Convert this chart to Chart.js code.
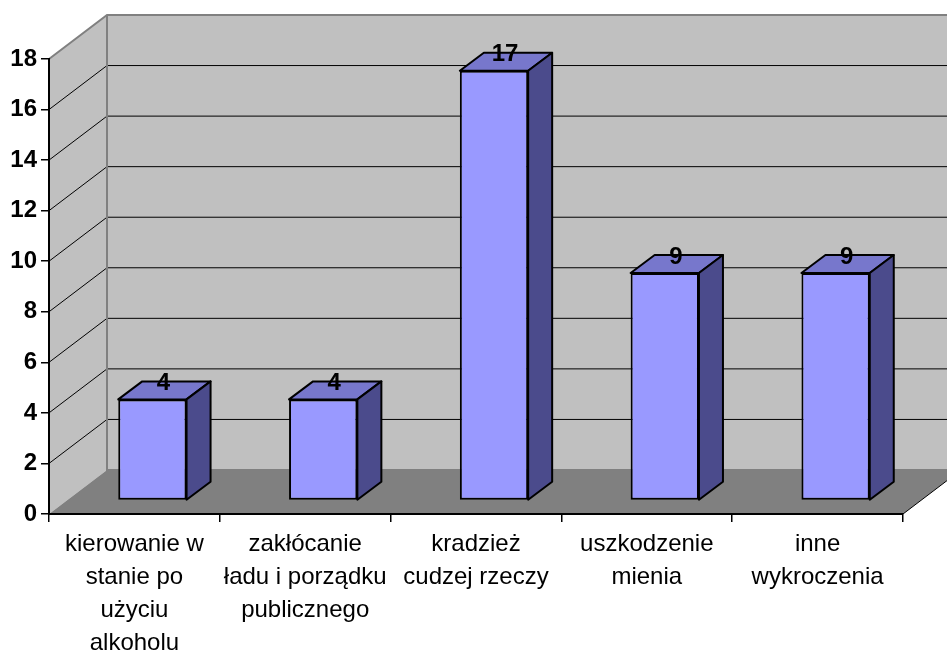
<!DOCTYPE html>
<html>
<head>
<meta charset="utf-8">
<script src="https://cdn.jsdelivr.net/npm/chart.js@4.4.1/dist/chart.umd.min.js"></script>
<style>
  html, body { margin: 0; padding: 0; background: #fff; }
</style>
</head>
<body>
<canvas id="offenceChart" width="947" height="651"></canvas>
<script>
// Category labels, split into lines like the original
const categories = [
  ['kierowanie w', 'stanie po', 'użyciu', 'alkoholu'],
  ['zakłócanie', 'ładu i porządku', 'publicznego'],
  ['kradzież', 'cudzej rzeczy'],
  ['uszkodzenie', 'mienia'],
  ['inne', 'wykroczenia']
];
const offenceCounts = [4, 4, 17, 9, 9];
const yTicks = [0, 2, 4, 6, 8, 10, 12, 14, 16, 18];

// 3D depth offsets (oblique projection)
const WALL_DX = 58, WALL_DY = -44;   // front plane -> back wall
const BAR_DX = 18, BAR_DY = -13.5;   // front plane -> bar front face
const SIDE_DX = 24, SIDE_DY = -18;   // bar depth

const FONT = 'Liberation Sans, Arial, sans-serif';

function poly(ctx, pts) {
  ctx.beginPath();
  ctx.moveTo(pts[0][0], pts[0][1]);
  for (let i = 1; i < pts.length; i++) ctx.lineTo(pts[i][0], pts[i][1]);
  ctx.closePath();
}

// Back wall, side wall, floor and the gridlines on them
const wallsPlugin = {
  id: 'walls',
  beforeDraw(chart) {
    const { ctx, chartArea: a, scales: { y } } = chart;
    ctx.save();

    ctx.fillStyle = '#c0c0c0';
    ctx.fillRect(a.left + WALL_DX, a.top + WALL_DY, a.width, a.height);
    poly(ctx, [[a.left, a.top], [a.left + WALL_DX, a.top + WALL_DY],
               [a.left + WALL_DX, a.bottom + WALL_DY], [a.left, a.bottom]]);
    ctx.fill();

    ctx.fillStyle = '#808080';
    poly(ctx, [[a.left, a.bottom], [a.right, a.bottom],
               [a.right + WALL_DX, a.bottom + WALL_DY], [a.left + WALL_DX, a.bottom + WALL_DY]]);
    ctx.fill();

    // gridlines
    ctx.strokeStyle = '#000';
    ctx.lineWidth = 1;
    yTicks.forEach(v => {
      if (v === 0 || v === yTicks[yTicks.length - 1]) return;
      const py = y.getPixelForValue(v);
      ctx.beginPath();
      ctx.moveTo(a.left, py);
      ctx.lineTo(a.left + WALL_DX, py + WALL_DY);
      ctx.lineTo(a.right + WALL_DX, py + WALL_DY);
      ctx.stroke();
    });

    // wall edges
    ctx.strokeStyle = '#808080';
    ctx.lineWidth = 2;
    ctx.beginPath();
    ctx.moveTo(a.left, a.top);
    ctx.lineTo(a.left + WALL_DX, a.top + WALL_DY);
    ctx.lineTo(a.right + WALL_DX, a.top + WALL_DY);
    ctx.moveTo(a.left + WALL_DX, a.top + WALL_DY);
    ctx.lineTo(a.left + WALL_DX, a.bottom + WALL_DY);
    ctx.lineTo(a.right + WALL_DX, a.bottom + WALL_DY);
    ctx.stroke();

    // right edge of the floor
    ctx.strokeStyle = '#000';
    ctx.lineWidth = 1;
    ctx.beginPath();
    ctx.moveTo(a.right, a.bottom);
    ctx.lineTo(a.right + WALL_DX, a.bottom + WALL_DY);
    ctx.stroke();

    ctx.restore();
  }
};

// Top and side faces of each bar; the front face is drawn by Chart.js
const boxPlugin = {
  id: 'box3d',
  beforeDatasetsDraw(chart) {
    const ctx = chart.ctx;
    ctx.save();
    ctx.translate(BAR_DX, BAR_DY);
    ctx.strokeStyle = '#000';
    ctx.lineWidth = 2;
    ctx.lineJoin = 'round';
    chart.getDatasetMeta(0).data.forEach(bar => {
      const l = bar.x - bar.width / 2, r = bar.x + bar.width / 2;
      const t = bar.y, b = bar.base;
      ctx.fillStyle = '#7777cc';
      poly(ctx, [[l, t], [l + SIDE_DX, t + SIDE_DY], [r + SIDE_DX, t + SIDE_DY], [r, t]]);
      ctx.fill(); ctx.stroke();
      ctx.fillStyle = '#4b4b8c';
      poly(ctx, [[r, t], [r + SIDE_DX, t + SIDE_DY], [r + SIDE_DX, b + SIDE_DY], [r, b]]);
      ctx.fill(); ctx.stroke();
    });
  },
  afterDatasetsDraw(chart) {
    const ctx = chart.ctx;
    ctx.restore();
    // value labels on top of the bars
    ctx.save();
    ctx.fillStyle = '#000';
    ctx.font = 'bold 24px ' + FONT;
    ctx.textAlign = 'center';
    ctx.textBaseline = 'middle';
    chart.getDatasetMeta(0).data.forEach((bar, i) => {
      ctx.fillText(String(offenceCounts[i]), bar.x + BAR_DX + SIDE_DX / 2 - 1, bar.y + BAR_DY + SIDE_DY + 2);
    });
    ctx.restore();
  }
};

const ctx = document.getElementById('offenceChart').getContext('2d');
const offenceChart = new Chart(ctx, {
  type: 'bar',
  data: {
    labels: categories,
    datasets: [{
      data: offenceCounts,
      backgroundColor: '#9999ff',
      borderColor: '#000',
      borderWidth: 2,
      borderSkipped: false,
      barPercentage: 0.4,
      categoryPercentage: 1,
      clip: false
    }]
  },
  options: {
    responsive: false,
    animation: false,
    layout: { padding: { top: 59, right: 44, left: 0, bottom: 0 } },
    plugins: {
      legend: { display: false },
      tooltip: { enabled: false }
    },
    scales: {
      x: {
        grid: { display: true, drawOnChartArea: false, drawTicks: true, tickLength: 8, color: '#000', lineWidth: 1.5, offset: true },
        border: { display: true, color: '#000', width: 2 },
        ticks: {
          color: '#000',
          font: { family: FONT, size: 24, lineHeight: 1.375 },
          padding: 6,
          maxRotation: 0,
          minRotation: 0,
          autoSkip: false
        },
        afterFit(scale) { scale.height = 137; }
      },
      y: {
        min: 0,
        max: 18,
        afterBuildTicks(scale) { scale.ticks = yTicks.map(v => ({ value: v })); },
        grid: { display: true, drawOnChartArea: false, drawTicks: true, tickLength: 8, color: '#000', lineWidth: 1.5 },
        border: { display: true, color: '#000', width: 2 },
        ticks: { color: '#000', font: { family: FONT, size: 24, weight: 'bold' }, padding: 4 },
        afterFit(scale) { scale.width = 49; }
      }
    }
  },
  plugins: [wallsPlugin, boxPlugin]
});
</script>
</body>
</html>
